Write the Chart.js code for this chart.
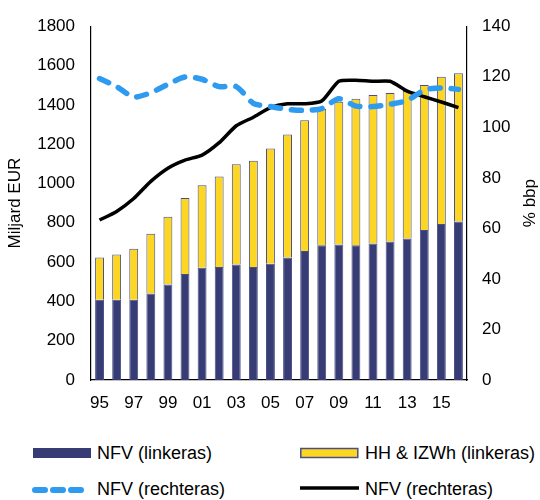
<!DOCTYPE html>
<html>
<head>
<meta charset="utf-8">
<script src="https://cdn.jsdelivr.net/npm/chart.js@4/dist/chart.umd.min.js"></script>
<style>
body { margin: 0; background: #fff; font-family: "Liberation Sans", Arial, sans-serif; }
#wrap { position: relative; width: 540px; height: 500px; }
#chart-box { position: absolute; left: 0; top: 0; width: 540px; height: 420px; }
.leg { position: absolute; font-size: 18px; color: #000; display: flex; align-items: center; white-space: nowrap; height: 20px; }
.leg svg { margin-right: 6px; }
</style>
</head>
<body>
<div id="wrap">
	<div id="chart-box"><canvas id="debt-chart"></canvas></div>
	<div class="leg" style="left:33px; top:443px;">
		<svg width="58" height="20"><rect x="0" y="5" width="58" height="10" fill="#373c74"/></svg>NFV (linkeras)
	</div>
	<div class="leg" style="left:300px; top:443px;">
		<svg width="59" height="20"><rect x="0.8" y="5.5" width="57" height="9" fill="#fdd624" stroke="#4a4f86" stroke-width="1.5"/></svg>HH &amp; IZWh (linkeras)
	</div>
	<div class="leg" style="left:29px; top:479px;">
		<svg width="62" height="20"><line x1="6" y1="11" x2="54" y2="11" stroke="#2e9bf0" stroke-width="6" stroke-linecap="round" stroke-dasharray="10 8"/></svg>NFV (rechteras)
	</div>
	<div class="leg" style="left:300px; top:479px;">
		<svg width="59" height="20"><line x1="0" y1="9" x2="59" y2="9" stroke="#000" stroke-width="3.5"/></svg>NFV (rechteras)
	</div>
</div>
<script>
// jaren 1995 - 2016
const years = ["95","96","97","98","99","00","01","02","03","04","05","06","07","08","09","10","11","12","13","14","15","16"];
// linkeras, miljard EUR
const nfv_eur = [408,408,408,440,486,539,571,575,588,575,592,623,656,685,690,685,695,704,720,763,794,807];
const totaal_eur = [623,639,668,744,831,926,991,1035,1098,1115,1178,1249,1321,1380,1416,1431,1450,1460,1470,1501,1543,1560];
const hh_eur = totaal_eur.map((t, i) => t - nfv_eur[i]);
// rechteras, % bbp
const nfv_bbp_dash = [119.3,116.1,112.0,113.7,117.0,119.9,119.0,116.1,116.1,109.5,108.2,107.1,106.7,107.4,111.3,108.4,108.2,109.1,110.6,114.7,115.6,115.0];
const nfv_bbp_line = [63.3,66.7,71.8,78.6,83.8,87.0,89.0,93.9,100.6,104.0,107.8,109.3,109.3,110.4,118.2,118.6,118.2,118.2,114.3,112.1,110.0,107.8];

const navy = "#373c74";
const yellow = "#fdd624";
const blue = "#2e9bf0";
const tick_font = {family: "'Liberation Sans', Arial, sans-serif", size: 17};

Chart.defaults.color = "#000";
Chart.defaults.font.family = "'Liberation Sans', Arial, sans-serif";

// titel van rechteras, van onder naar boven gelezen zoals links
const right_title = {
	id: "right_title",
	afterDraw(chart) {
		const s = chart.scales.y2;
		const c = chart.ctx;
		c.save();
		c.translate(530, (s.top + s.bottom) / 2);
		c.rotate(-Math.PI / 2);
		c.font = "17px 'Liberation Sans', Arial, sans-serif";
		c.fillStyle = "#000";
		c.textAlign = "center";
		c.textBaseline = "middle";
		c.fillText("% bbp", 0, 0);
		c.restore();
	}
};

const ctx = document.getElementById("debt-chart");
const chart = new Chart(ctx, {
	data: {
		labels: years,
		datasets: [
			{type: "line", label: "NFV (rechteras)", data: nfv_bbp_dash, yAxisID: "y2", order: 0,
				borderColor: blue, borderWidth: 5.5, borderDash: [10, 11], borderCapStyle: "round",
				pointRadius: 0, tension: 0.25},
			{type: "line", label: "NFV (rechteras) ", data: nfv_bbp_line, yAxisID: "y2", order: 1,
				borderColor: "#000", borderWidth: 3.5, pointRadius: 0, tension: 0.2},
			{type: "bar", label: "NFV (linkeras)", data: nfv_eur, yAxisID: "y", order: 2, stack: "s",
				backgroundColor: navy, borderColor: "#4a4f86", borderWidth: 1,
				barPercentage: 0.52, categoryPercentage: 1},
			{type: "bar", label: "HH & IZWh (linkeras)", data: hh_eur, yAxisID: "y", order: 2, stack: "s",
				backgroundColor: yellow, borderColor: "#4a4f86", borderWidth: 1,
				barPercentage: 0.52, categoryPercentage: 1}
		]
	},
	options: {
		responsive: true,
		maintainAspectRatio: false,
		animation: false,
		layout: {padding: {top: 21, bottom: 0, left: 0, right: 0}},
		plugins: {
			legend: {display: false},
			tooltip: {enabled: false}
		},
		scales: {
			x: {
				stacked: true,
				grid: {display: false, drawTicks: false},
				border: {color: "#000", width: 1.2},
				ticks: {
					font: tick_font, padding: 13, autoSkip: false, maxRotation: 0,
					callback: function(val, i) { return i % 2 === 0 ? years[i] : ""; }
				},
				afterFit: function(scale) { scale.height = 40; }
			},
			y: {
				stacked: true,
				position: "left",
				min: 0, max: 1800,
				grid: {display: false, drawTicks: false},
				border: {color: "#000", width: 1.2},
				ticks: {font: tick_font, stepSize: 200, padding: 16, callback: v => String(v)},
				title: {display: true, text: "Miljard EUR", font: tick_font, padding: {top: 5, bottom: 4}},
				afterFit: function(scale) { scale.width = 91; }
			},
			y2: {
				position: "right",
				min: 0, max: 140,
				grid: {display: false, drawTicks: false},
				border: {color: "#000", width: 1.2},
				ticks: {font: tick_font, stepSize: 20, padding: 15, callback: v => String(v)},
				afterFit: function(scale) { scale.width = 73; }
			}
		}
	},
	plugins: [right_title]
});
</script>
</body>
</html>
